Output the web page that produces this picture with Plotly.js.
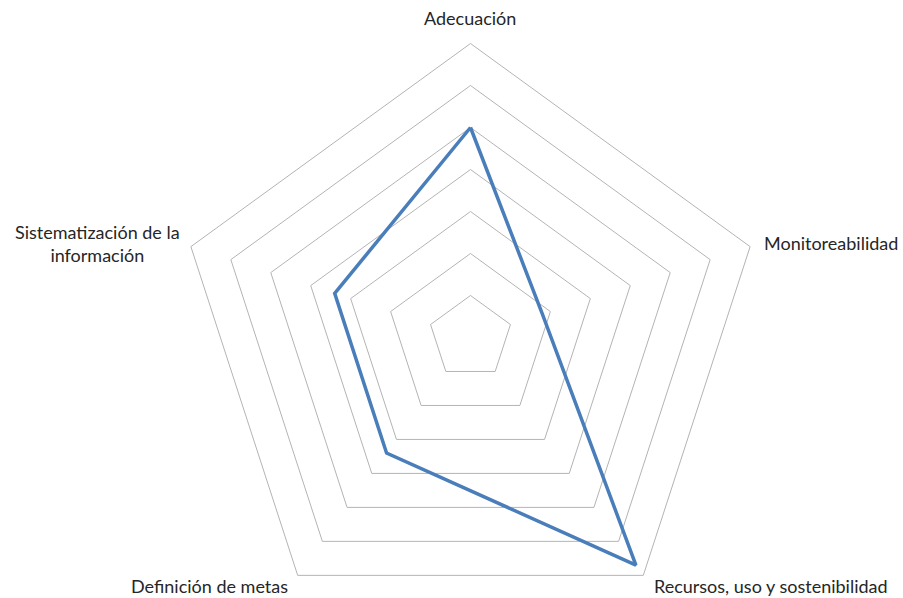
<!DOCTYPE html>
<html>
<head>
<meta charset="utf-8">
<script src="https://cdn.plot.ly/plotly-3.0.1.min.js"></script>
<style>
html,body{margin:0;padding:0;background:#fff;overflow:hidden;}
#chart{width:903px;height:700px;}
</style>
</head>
<body>
<div id="chart"></div>
<script>
// Data
const categories = ["Adecuación", "Monitoreabilidad", "Recursos, uso y sostenibilidad", "Definición de metas", "Sistematización de la<br>información"];
const values = [5, 1.8, 6.7, 3.4, 3.4];
const axisMax = 7;

const W = 903, H = 700;
const cx = 470.5, cyTop = 337.5, R = 294;

const trace = {
  type: "scatterpolar",
  mode: "lines",
  r: values.concat([values[0]]),
  theta: categories.concat([categories[0]]),
  line: {color: "#4a7ebb", width: 3.5},
  hoverinfo: "skip",
  showlegend: false
};

// label placement (pixels from top-left) — layout only
const labelPos = [
  {x: 470, y: 18, xa: "center"},
  {x: 762, y: 243, xa: "left"},
  {x: 652, y: 586, xa: "left"},
  {x: 290, y: 586, xa: "right"},
  {x: 97, y: 244, xa: "center"}
];
const annotations = categories.map((c, i) => ({
  text: c,
  xref: "paper", yref: "paper",
  x: labelPos[i].x / W, y: (H - labelPos[i].y) / H,
  xanchor: labelPos[i].xa, yanchor: "middle",
  align: "center",
  showarrow: false,
  font: {family: "Lato, 'Open Sans', sans-serif", size: 18, color: "#262626"}
}));

const layout = {
  width: W, height: H,
  margin: {l: 0, r: 0, t: 0, b: 0},
  paper_bgcolor: "#fff",
  showlegend: false,
  annotations: annotations,
  polar: {
    domain: {
      x: [(cx - R) / W, (cx + R) / W],
      y: [(H - cyTop - R) / H, (H - cyTop + R) / H]
    },
    gridshape: "linear",
    bgcolor: "#fff",
    radialaxis: {
      range: [0, axisMax], dtick: 1, tick0: 0,
      showline: false, showticklabels: false, ticks: "",
      gridcolor: "#b4b4b4", gridwidth: 1
    },
    angularaxis: {
      direction: "clockwise", rotation: 90,
      showgrid: false, showline: true, linecolor: "#b4b4b4", linewidth: 1,
      ticks: "", showticklabels: false
    }
  }
};

Plotly.newPlot("chart", [trace], layout, {displayModeBar: false, staticPlot: true});
</script>
</body>
</html>
